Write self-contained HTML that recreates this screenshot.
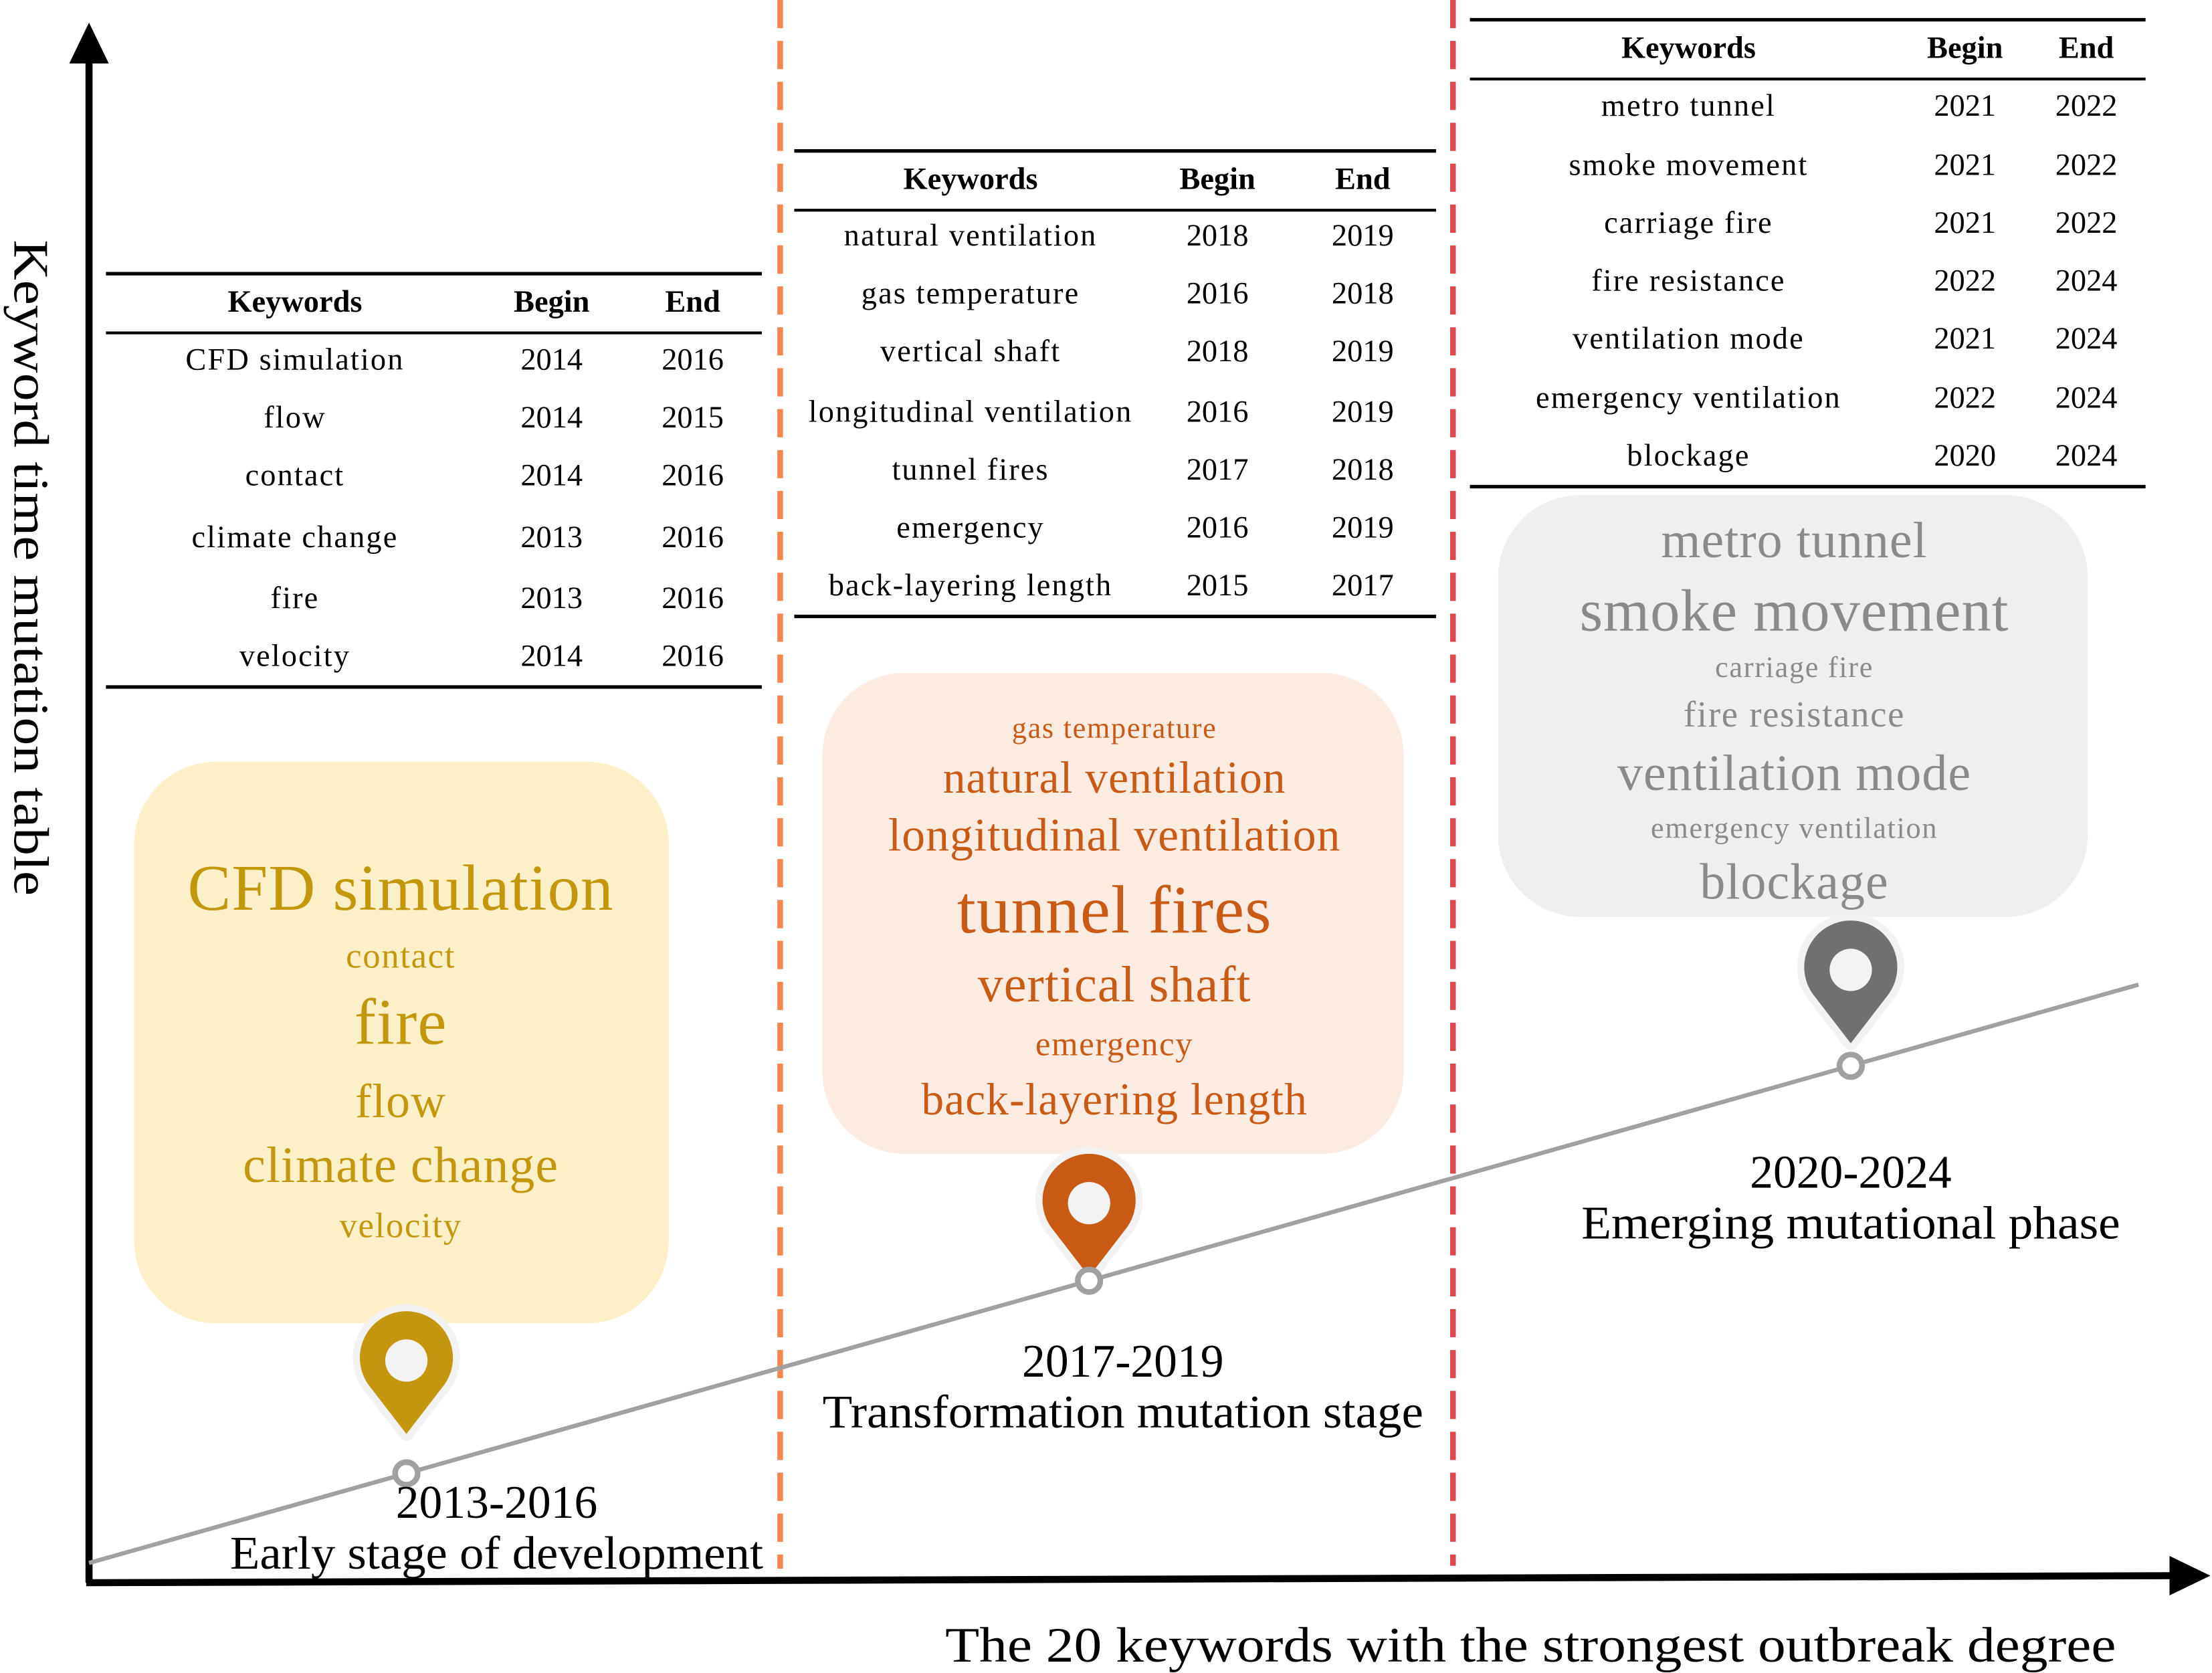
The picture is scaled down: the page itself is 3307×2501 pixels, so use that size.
<!DOCTYPE html>
<html><head><meta charset="utf-8"><style>
html,body{margin:0;padding:0;background:#fff;}
svg{display:block;font-family:"Liberation Serif",serif;}
</style></head><body>
<svg id="chart" width="3307" height="2501" viewBox="0 0 1568 1186" xmlns="http://www.w3.org/2000/svg">
<rect width="1568" height="1186" fill="#fff"/>
<g id="g"></g>
</svg>
<script>
const NS='http://www.w3.org/2000/svg';
const root=document.getElementById('g');
function mk(tag,attrs,parent,txt){const e=document.createElementNS(NS,tag);for(const k in attrs)e.setAttribute(k,attrs[k]);if(txt!==undefined)e.textContent=txt;(parent||root).appendChild(e);return e;}

// table data
const t1Keywords=['CFD simulation','flow','contact','climate change','fire','velocity'];
const t1Begin=[2014,2014,2014,2013,2013,2014];
const t1End=[2016,2015,2016,2016,2016,2016];
const t2Keywords=['natural ventilation','gas temperature','vertical shaft','longitudinal ventilation','tunnel fires','emergency','back-layering length'];
const t2Begin=[2018,2016,2018,2016,2017,2016,2015];
const t2End=[2019,2018,2019,2019,2018,2019,2017];
const t3Keywords=['metro tunnel','smoke movement','carriage fire','fire resistance','ventilation mode','emergency ventilation','blockage'];
const t3Begin=[2021,2021,2021,2022,2021,2022,2020];
const t3End=[2022,2022,2022,2024,2024,2024,2024];
// word clouds
const w1Words=['CFD simulation','contact','fire','flow','climate change','velocity'];
const w2Words=['gas temperature','natural ventilation','longitudinal ventilation','tunnel fires','vertical shaft','emergency','back-layering length'];
const w3Words=['metro tunnel','smoke movement','carriage fire','fire resistance','ventilation mode','emergency ventilation','blockage'];
const stageYears=['2013-2016','2017-2019','2020-2024'];
const stageNames=['Early stage of development','Transformation mutation stage','Emerging mutational phase'];

let e;
e=mk('line',{x1:63,y1:1122,x2:63,y2:40,stroke:'#000','stroke-width':5});

e=mk('polygon',{points:'49,45 77,45 63,16',fill:'#000'});

e=mk('line',{x1:61,y1:1122,x2:1542,y2:1117,stroke:'#000','stroke-width':5});

e=mk('polygon',{points:'1538,1103 1538,1131 1567,1117',fill:'#000'});

e=mk('text',{x:0,y:0,'font-size':35,textLength:465,lengthAdjust:'spacingAndGlyphs',transform:'translate(10,170) rotate(90)'},root,'Keyword time mutation table');

e=mk('text',{x:670,y:1178,'font-size':35,textLength:830,lengthAdjust:'spacingAndGlyphs'},root,'The 20 keywords with the strongest outbreak degree');


e=mk('line',{x1:553,y1:0,x2:553,y2:1112,stroke:'#f4874b','stroke-width':4,'stroke-dasharray':'20,9'});

e=mk('line',{x1:1030,y1:0,x2:1030,y2:1110,stroke:'#e0474c','stroke-width':4,'stroke-dasharray':'20,9'});


const lineX0=63,lineY0=1108,lineX1=1516,lineY1=698;
function lineY(x){return lineY0+(x-lineX0)*(lineY1-lineY0)/(lineX1-lineX0);}
e=mk('line',{x1:lineX0,y1:lineY0,x2:lineX1,y2:lineY1,stroke:'#a0a0a0','stroke-width':3});


function table(name,x0,x1,top,cols,kw,b,en,rowYs){
  const g=mk('g',{});
  
  
  mk('line',{x1:x0,x2:x1,y1:top,y2:top,stroke:'#000','stroke-width':2.5},g);
  const h=['Keywords','Begin','End'];
  h.forEach((t,i)=>{const el=mk('text',{x:cols[i],y:top+27,'font-size':22,'font-weight':'bold','text-anchor':'middle'},g,t);
    });
  mk('line',{x1:x0,x2:x1,y1:top+42,y2:top+42,stroke:'#000','stroke-width':2},g);
  kw.forEach((k,i)=>{
    const y=rowYs[i];
    [k,b[i],en[i]].forEach((t,j)=>{const el=mk('text',{x:cols[j],y:y,'font-size':22,'text-anchor':'middle'},g,String(t));
      if(j===0) el.setAttribute('letter-spacing','1');
      });
  });
  mk('line',{x1:x0,x2:x1,y1:rowYs[rowYs.length-1]+15,y2:rowYs[rowYs.length-1]+15,stroke:'#000','stroke-width':2.5},g);
}
table('table-early',75,540,194,[209,391,491],t1Keywords,t1Begin,t1End,[262,303,344,388,431,472]);
table('table-transformation',563,1018,107,[688,863,966],t2Keywords,t2Begin,t2End,[174,215,256,299,340,381,422]);
table('table-emerging',1042,1521,14,[1197,1393,1479],t3Keywords,t3Begin,t3End,[82,124,165,206,247,289,330]);

function cloud(name,x,y,w,h,fill,color,words,ys,sizes,cx){
  const g=mk('g',{});
  
  
  mk('rect',{x:x,y:y,width:w,height:h,rx:58,fill:fill},g);
  words.forEach((t,i)=>{const el=mk('text',{x:cx,y:ys[i],'font-size':sizes[i],fill:color,'text-anchor':'middle','letter-spacing':sizes[i]>30?0.5:0.8},g,t);
    });
}
cloud('wordcloud-early',95,540,379,398,'#fdf0c8','#c4960c',w1Words,[645,686,740,792,838,877],[46,25,46,34,36,25],284);
cloud('wordcloud-transformation',583,477,412,341,'#fbebe1','#c95a14',w2Words,[523,562,603,661,710,748,790],[21,32,33,48,36,24,32],790);
cloud('wordcloud-emerging',1062,351,418,299,'#efefef','#8a8a8a',w3Words,[395,447,480,515,560,594,637],[36,42,21,26,36,21,36],1272);

const pinX=[288,772,1312];
const pinColors=['#c4960c','#c95a14','#707070'];
const pinOffsets=[80,55,68];
pinX.forEach((px,i)=>{
  const my=lineY(px);
  const cy=my-pinOffsets[i];
  const g=mk('g',{});
  
  
  const d=`M ${px} ${cy+52} L ${px-27} ${cy+17} A 33 33 0 1 1 ${px+27} ${cy+17} Z`;
  mk('path',{d:d,fill:'#f2f2f2',stroke:'#f2f2f2','stroke-width':10,'stroke-linejoin':'round'},g);
  mk('path',{d:d,fill:pinColors[i]},g);
  mk('circle',{cx:px,cy:cy,r:15,fill:'#f3f3f3'},g);
  const m=mk('circle',{cx:px,cy:my,r:8,fill:'#fff',stroke:'#a0a0a0','stroke-width':4},g);
  
});
const labelX=[352,796,1312];
const labelY=[1076,976,842];
const nameW=[378,426,382];
stageYears.forEach((t,i)=>{
  const a=mk('text',{x:labelX[i],y:labelY[i],'font-size':33,'text-anchor':'middle'},root,t);
  
  const b=mk('text',{x:labelX[i],y:labelY[i]+36,'font-size':33,'text-anchor':'middle',textLength:nameW[i],lengthAdjust:'spacingAndGlyphs'},root,stageNames[i]);
  
});
</script>
</body></html>
